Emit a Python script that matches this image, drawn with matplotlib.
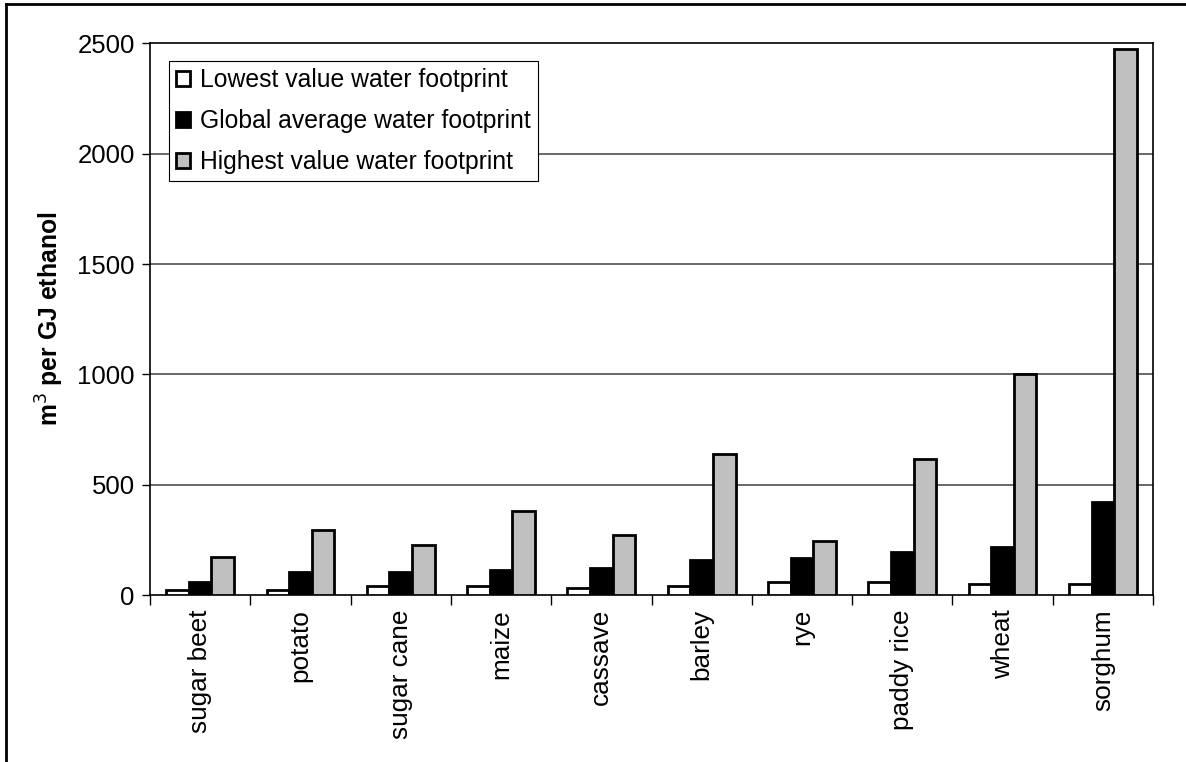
import matplotlib
matplotlib.use("Agg")
import matplotlib.pyplot as plt
from matplotlib.lines import Line2D
from matplotlib.ticker import FixedLocator, NullFormatter
import numpy as np

plt.rcParams['font.family'] = ['Liberation Sans', 'DejaVu Sans']

crops = ["sugar beet", "potato", "sugar cane", "maize", "cassave",
         "barley", "rye", "paddy rice", "wheat", "sorghum"]
lowest = [25, 25, 42, 42, 32, 44, 62, 62, 53, 53]
average = [62, 106, 106, 115, 123, 159, 168, 194, 221, 423]
highest = [174, 298, 229, 380, 271, 639, 245, 616, 1000, 2474]
series_labels = ["Lowest value water footprint",
                 "Global average water footprint",
                 "Highest value water footprint"]
yticks = [0, 500, 1000, 1500, 2000, 2500]

fig = plt.figure(figsize=(11.86, 7.62), dpi=100)
ax = fig.add_axes([150/1186, 1-595.3/762, (1153-150)/1186, (595.3-43.3)/762])

x = np.arange(len(crops))
w = 0.225
colors = ["white", "black", "#C0C0C0"]
for i, (vals, lab, c) in enumerate(zip([lowest, average, highest], series_labels, colors)):
    ax.bar(x + (i - 1) * w, vals, width=w, color=c, edgecolor="black",
           linewidth=2.0, label=lab, zorder=3)

ax.set_xlim(-0.5, len(crops) - 0.5)
ax.set_ylim(0, 2500)
ax.set_yticks(yticks)
ax.tick_params(axis='y', labelsize=18.5, length=6, width=1, direction='out', pad=5)
for g in yticks[1:-1]:
    ax.axhline(g, color="#404040", linewidth=1.1, zorder=1)

ax.xaxis.set_major_locator(FixedLocator(np.arange(len(crops) + 1) - 0.5))
ax.xaxis.set_major_formatter(NullFormatter())
ax.xaxis.set_minor_locator(FixedLocator(x))
ax.set_xticklabels(crops, minor=True, rotation=90, fontsize=18.8)
ax.tick_params(axis='x', which='major', length=7, width=1, direction='out')
ax.tick_params(axis='x', which='minor', length=0, pad=10)

for s in ax.spines.values():
    s.set_linewidth(1.2)
    s.set_color("black")

ax.set_ylabel("m$^3$ per GJ ethanol", fontsize=17.8, fontweight='bold', labelpad=8)

leg = ax.legend(loc="upper left", bbox_to_anchor=(0.019, 0.968), fontsize=17.8,
                frameon=True, fancybox=False, framealpha=1, edgecolor="black",
                handlelength=0.55, handleheight=0.55, handletextpad=0.4,
                borderpad=0.3, labelspacing=0.68, borderaxespad=0)
leg.get_frame().set_linewidth(0.8)

fig.add_artist(Line2D([6/1186, 6/1186], [0, 1-4/762], color="black", lw=2, transform=fig.transFigure))
fig.add_artist(Line2D([6/1186, 1], [1-4/762, 1-4/762], color="black", lw=2, transform=fig.transFigure))

fig.savefig("out.png", dpi=100)
